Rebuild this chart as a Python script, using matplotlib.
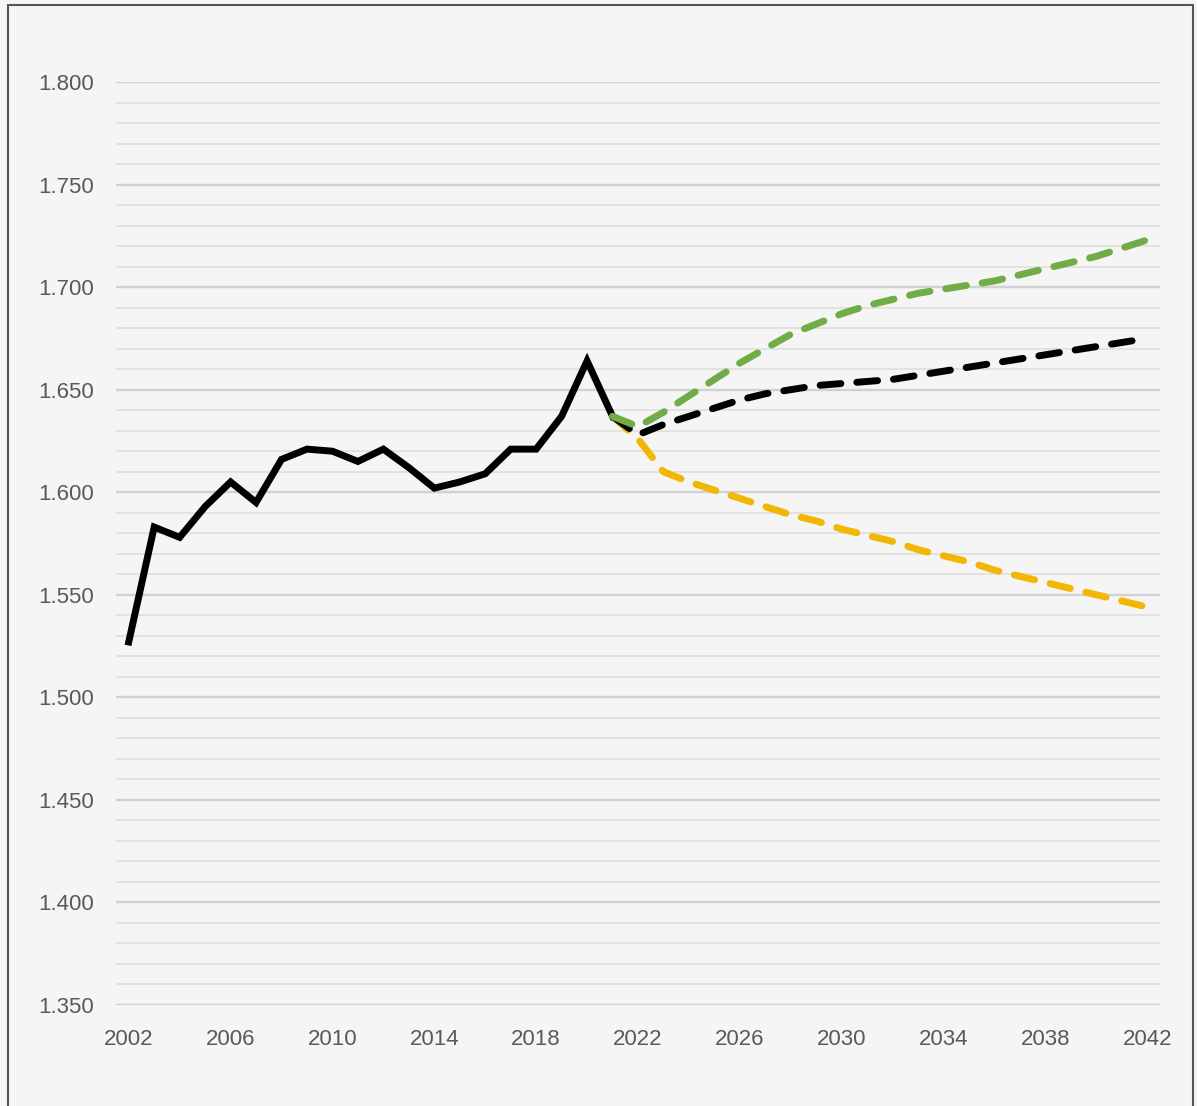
import matplotlib.pyplot as plt
import numpy as np
from matplotlib.patches import Rectangle

# historical series
hist_years = list(range(2002, 2022))
hist_vals = [1.527, 1.583, 1.578, 1.593, 1.605, 1.595, 1.616, 1.621, 1.620, 1.615,
             1.621, 1.612, 1.602, 1.605, 1.609, 1.621, 1.621, 1.637, 1.664, 1.637]

# projections
proj_years = list(range(2021, 2043))
mid_vals = [1.637, 1.628, 1.633, 1.637, 1.641, 1.645, 1.648, 1.650, 1.652, 1.653, 1.654,
            1.655, 1.657, 1.659, 1.661, 1.663, 1.665, 1.667, 1.669, 1.671, 1.673, 1.675]
high_vals = [1.637, 1.632, 1.639, 1.647, 1.655, 1.663, 1.670, 1.677, 1.682, 1.687, 1.691,
             1.694, 1.697, 1.699, 1.701, 1.703, 1.706, 1.709, 1.712, 1.715, 1.719, 1.723]
low_vals = [1.637, 1.626, 1.610, 1.605, 1.601, 1.597, 1.593, 1.589, 1.586, 1.582, 1.579,
            1.576, 1.572, 1.569, 1.566, 1.562, 1.559, 1.556, 1.553, 1.550, 1.547, 1.544]

x_ticks = list(range(2002, 2043, 4))

plt.rcParams['font.family'] = ['Liberation Sans', 'DejaVu Sans']

bg = '#f5f5f5'
fig = plt.figure(figsize=(11.97, 11.06), dpi=100, facecolor=bg)
ax = fig.add_axes([116/1197, 1 - 1005/1106, (1160-116)/1197, (1005-82)/1106])
ax.set_facecolor(bg)

# border around the chart
fig.patches.append(Rectangle((8/1197, -0.01), (1193-8)/1197, 1.01 - 5/1106,
                             transform=fig.transFigure, fill=False,
                             edgecolor='#555555', lw=1.5))

lw = 5.0
dash = (3.0, 2.3)
ax.plot(hist_years, hist_vals, color='black', lw=lw, solid_joinstyle='miter', zorder=3)
ax.plot(proj_years, low_vals, color='#F2B705', lw=lw, dashes=dash,
        dash_capstyle='round', zorder=4)
ax.plot(proj_years, mid_vals, color='black', lw=lw, dashes=dash,
        dash_capstyle='round', zorder=5)
ax.plot(proj_years, high_vals, color='#70AD47', lw=lw, dashes=dash,
        dash_capstyle='round', zorder=6)

ax.set_xlim(2001.5, 2042.5)
ax.set_ylim(1.35, 1.80)
ax.set_xticks(x_ticks)
ax.set_yticks(np.arange(1.35, 1.8001, 0.05))
ax.set_yticks(np.arange(1.35, 1.8001, 0.01), minor=True)
ax.yaxis.set_major_formatter(plt.FuncFormatter(lambda v, p: f'{v:.3f}'))

ax.grid(True, axis='y', which='major', color='#d1d1d1', lw=1.7, zorder=1)
ax.grid(True, axis='y', which='minor', color='#e2e2e2', lw=1.4, zorder=1)
ax.set_axisbelow(True)

for s in ax.spines.values():
    s.set_visible(False)
ax.tick_params(axis='both', which='both', length=0, labelsize=16, colors='#595959')
ax.tick_params(axis='y', pad=16)
ax.tick_params(axis='x', pad=17)

fig.savefig('out.png', dpi=100, facecolor=bg)
